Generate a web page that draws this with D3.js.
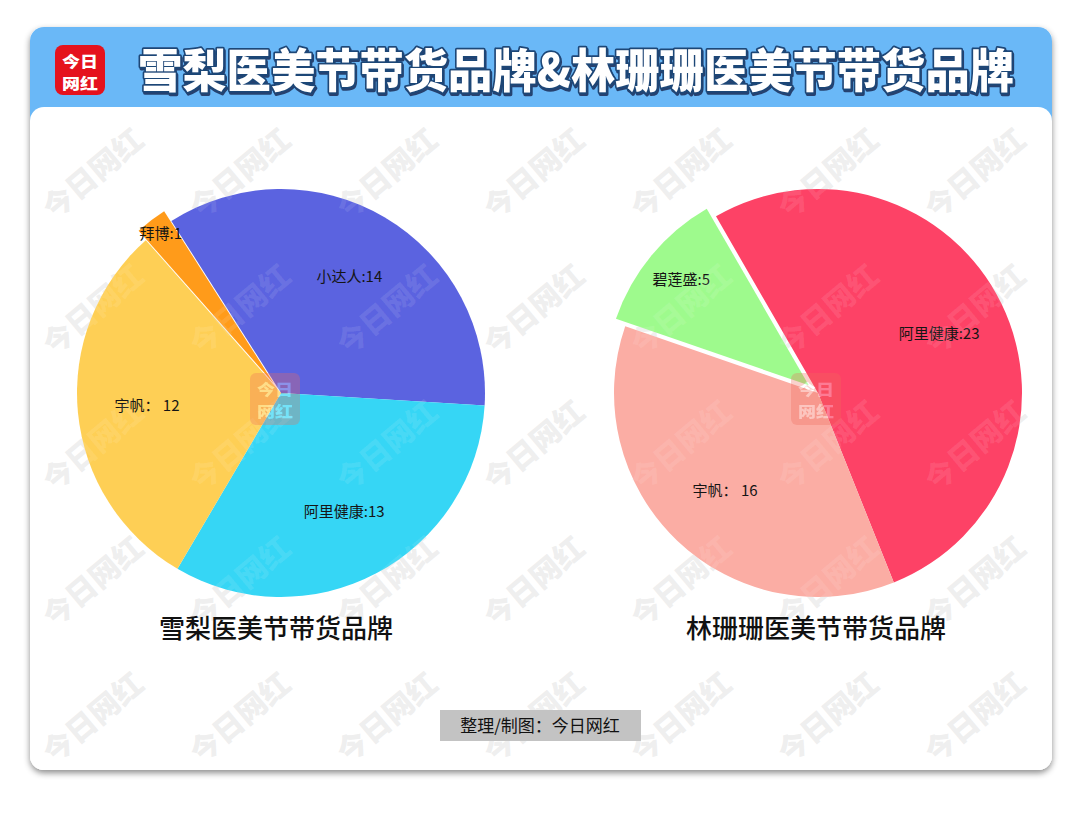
<!DOCTYPE html>
<html><head><meta charset="utf-8">
<script src="https://cdn.jsdelivr.net/npm/d3@7/dist/d3.min.js"></script>
<style>
html,body{margin:0;padding:0;background:#fff;}
svg{display:block;font-family:"Noto Sans CJK SC","Noto Sans",sans-serif;}
</style></head>
<body>
<svg id="c" width="1080" height="814"></svg>
<script>
// ---- data ----
const mainTitle = "雪梨医美节带货品牌&林珊珊医美节带货品牌";
const leftTitle = "雪梨医美节带货品牌";
const rightTitle = "林珊珊医美节带货品牌";
const credit = "整理/制图：今日网红";

const leftNames  = ["小达人", "阿里健康", "宇帆", "拜博"];
const leftValues = [14, 13, 12, 1];
const leftSeps   = [":", ":", "： ", ":"];
const leftColors = ["#5b63e0", "#36d6f5", "#fecf55", "#ff9b1a"];
const leftSelected = [false, false, false, true];

const rightNames  = ["阿里健康", "宇帆", "碧莲盛"];
const rightValues = [23, 16, 5];
const rightSeps   = [":", "： ", ":"];
const rightColors = ["#fd4266", "#fbada4", "#9efa8d"];
const rightSelected = [false, false, true];

// ---- layout ----
const svg = d3.select("#c");
const defs = svg.append("defs");
const sh = defs.append("filter").attr("id","cardShadow").attr("x","-5%").attr("y","-5%").attr("width","110%").attr("height","115%");
sh.append("feDropShadow").attr("dx",0).attr("dy",3).attr("stdDeviation",3).attr("flood-color","#000").attr("flood-opacity",0.45);
const tsh = defs.append("filter").attr("id","titleShadow").attr("x","-5%").attr("y","-20%").attr("width","110%").attr("height","150%");
tsh.append("feDropShadow").attr("dx",1).attr("dy",2).attr("stdDeviation",0.6).attr("flood-color","#1a3560").attr("flood-opacity",0.9);

// card
svg.append("rect").attr("x",30).attr("y",27).attr("width",1022).attr("height",743).attr("rx",14)
  .attr("fill","#fff").attr("filter","url(#cardShadow)");
svg.append("rect").attr("x",30).attr("y",27).attr("width",1022).attr("height",110).attr("rx",14)
  .attr("fill","#6ab8f7");
svg.append("rect").attr("x",30).attr("y",107).attr("width",1022).attr("height",663).attr("rx",14)
  .attr("fill","#fff");

// logo
const logo = svg.append("g").attr("transform","translate(55,45)");
logo.append("rect").attr("width",50).attr("height",50).attr("rx",8).attr("fill","#e5121d");
logo.append("text").attr("x",25).attr("y",22).attr("text-anchor","middle").attr("fill","#fff")
  .attr("font-size",15).attr("font-weight",900).attr("textLength",36).attr("lengthAdjust","spacingAndGlyphs").text("今日");
logo.append("text").attr("x",25).attr("y",44).attr("text-anchor","middle").attr("fill","#fff")
  .attr("font-size",15).attr("font-weight",900).attr("textLength",36).attr("lengthAdjust","spacingAndGlyphs").text("网红");

// title
svg.append("text").attr("x",576).attr("y",87).attr("text-anchor","middle")
  .attr("font-size",46).attr("font-weight",900).attr("fill","#fff")
  .attr("stroke","#1f4677").attr("stroke-width",3.5).attr("paint-order","stroke")
  .attr("stroke-linejoin","round")
  .attr("textLength",876).attr("lengthAdjust","spacingAndGlyphs")
  .attr("filter","url(#titleShadow)")
  .text(mainTitle);

const clip = defs.append("clipPath").attr("id","panelClip");
clip.append("rect").attr("x",30).attr("y",110).attr("width",1022).attr("height",660).attr("rx",14);

function drawWatermarks(fill, opacity) {
  const wm = svg.append("g").attr("pointer-events","none").attr("clip-path","url(#panelClip)");
  for (let r = 0; r < 5; r++) {
    for (let c = 0; c < 7; c++) {
      const x = 100 + c*147, y = 182 + r*136;
      wm.append("text").attr("transform",`translate(${x},${y}) rotate(-40)`)
        .attr("text-anchor","middle").attr("font-size",30).attr("font-weight",900)
        .attr("fill",fill).attr("fill-opacity",opacity)
        .text("今日网红");
    }
  }
}

// pies
function drawPie(cx, cy, R, names, values, seps, colors, selected, startDeg) {
  const g = svg.append("g").attr("transform",`translate(${cx},${cy})`);
  const start = startDeg * Math.PI / 180;
  const pie = d3.pie().sort(null).value(d => d.v).startAngle(start).endAngle(start + 2*Math.PI);
  const data = names.map((n,i) => ({n, v: values[i], s: seps[i], c: colors[i], sel: selected[i]}));
  const arcs = pie(data);
  const arc = d3.arc().innerRadius(0).outerRadius(R);
  const off = 12;
  const mid = a => (a.startAngle + a.endAngle) / 2;
  g.selectAll("path").data(arcs).join("path")
    .attr("d", arc)
    .attr("fill", d => d.data.c)
    .attr("transform", d => d.data.sel ? `translate(${off*Math.sin(mid(d))},${-off*Math.cos(mid(d))})` : null);
  return {g, arcs, R, off, mid};
}
function drawLabels(p) {
  const {g, arcs, R, off, mid} = p;
  const rad = d => {
    const span = d.endAngle - d.startAngle;
    const f = span < 0.3 ? 0.92 : span < 1 ? 0.81 : 0.66;
    return R*f + (d.data.sel ? off : 0);
  };
  g.selectAll("text.lbl").data(arcs).join("text").attr("class","lbl")
    .attr("x", d => rad(d) * Math.sin(mid(d)))
    .attr("y", d => -rad(d) * Math.cos(mid(d)))
    .attr("dy","0.35em").attr("text-anchor","middle")
    .attr("font-size",15).attr("fill","#151515")
    .text(d => d.data.n + d.data.s + d.data.v);
}
function centreLogo(cx, cy) {
  const w = svg.append("g").attr("transform",`translate(${cx},${cy})`).attr("opacity",0.3);
  w.append("rect").attr("x",-25).attr("y",-26).attr("width",50).attr("height",52).attr("rx",6).attr("fill","#f06a5a");
  w.append("text").attr("y",-4).attr("text-anchor","middle").attr("font-size",15).attr("font-weight",900).attr("fill","#fff")
    .attr("textLength",36).attr("lengthAdjust","spacingAndGlyphs").text("今日");
  w.append("text").attr("y",18).attr("text-anchor","middle").attr("font-size",15).attr("font-weight",900).attr("fill","#fff")
    .attr("textLength",36).attr("lengthAdjust","spacingAndGlyphs").text("网红");
}

drawWatermarks("#d9d9d9", 0.45);
const pL = drawPie(281, 393, 204, leftNames, leftValues, leftSeps, leftColors, leftSelected, -32.5);
const pR = drawPie(818, 393, 204, rightNames, rightValues, rightSeps, rightColors, rightSelected, -30);
drawWatermarks("#ffffff", 0.1);
centreLogo(275, 399);
centreLogo(816, 399);
drawLabels(pL);
drawLabels(pR);

// sub titles
svg.append("text").attr("x",276).attr("y",638).attr("text-anchor","middle")
  .attr("font-size",26).attr("font-weight",500).attr("fill","#111").text(leftTitle);
svg.append("text").attr("x",816).attr("y",638).attr("text-anchor","middle")
  .attr("font-size",26).attr("font-weight",500).attr("fill","#111").text(rightTitle);

// credit
svg.append("rect").attr("x",440).attr("y",710).attr("width",201).attr("height",31).attr("fill","#c3c3c3");
svg.append("text").attr("x",540).attr("y",732).attr("text-anchor","middle")
  .attr("font-size",17).attr("fill","#111").text(credit);
</script>
</body></html>
